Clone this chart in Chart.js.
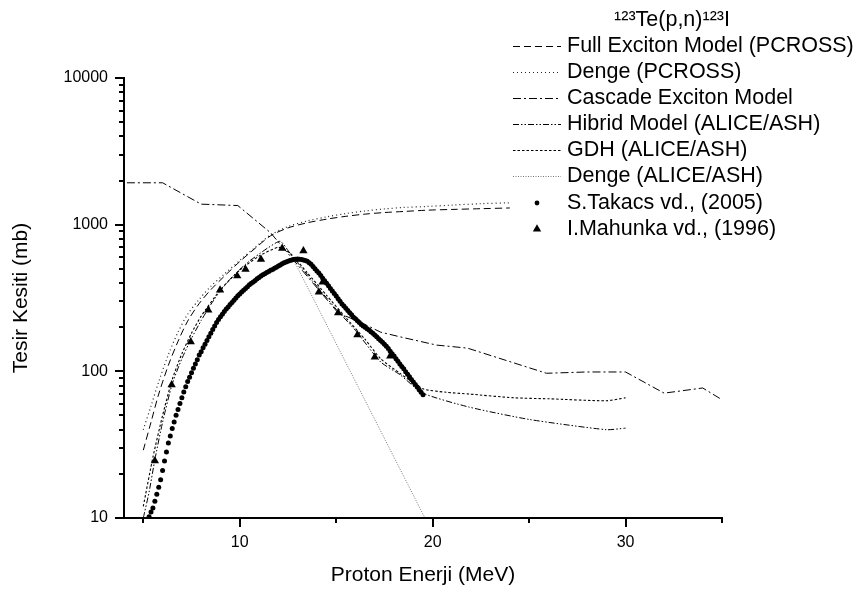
<!DOCTYPE html>
<html>
<head>
<meta charset="utf-8">
<script src="https://cdn.jsdelivr.net/npm/chart.js@4.4.1/dist/chart.umd.min.js"></script>
<style>
  html, body { margin: 0; padding: 0; background: #fff; }
  #wrap { width: 857px; height: 593px; }
</style>
</head>
<body>
<div id="wrap"><canvas id="xs-chart" width="857" height="593"></canvas></div>
<script>
// axis ticks
const xTickValues = [5, 10, 15, 20, 25, 30, 35];
const xLabelValues = [10, 20, 30];
const yTickValues = [10, 20, 30, 40, 50, 60, 70, 80, 90, 100, 200, 300, 400, 500, 600, 700, 800, 900,
  1000, 2000, 3000, 4000, 5000, 6000, 7000, 8000, 9000, 10000];
const yLabelValues = [10, 100, 1000, 10000];

// model curves (MeV, mb)
const fullExcitonE = [5.0, 5.4, 5.8, 6.3, 6.8, 7.3, 7.9, 8.5, 9.2, 10.0, 10.8, 11.6, 12.5, 13.5, 14.5, 15.5, 16.5, 17.5, 18.5, 19.7, 21.0, 22.5, 24.0];
const fullExcitonMb = [29, 45, 70, 110, 160, 220, 290, 360, 445, 560, 690, 840, 950, 1030, 1090, 1140, 1180, 1210, 1230, 1255, 1270, 1285, 1300];

const dengePcrossE = [5.0, 5.4, 5.8, 6.3, 6.8, 7.3, 7.9, 8.5, 9.2, 10.0, 10.8, 11.6, 12.5, 13.5, 14.5, 15.5, 16.5, 17.5, 18.5, 19.7, 21.0, 22.5, 24.0];
const dengePcrossMb = [40, 58, 85, 130, 185, 245, 310, 380, 460, 570, 700, 850, 970, 1060, 1130, 1190, 1240, 1280, 1310, 1330, 1360, 1390, 1410];

const cascadeE = [4.15, 6.0, 8.0, 9.9, 11.6, 15.1, 16.3, 17.3, 18.3, 20.2, 21.8, 25.9, 28.0, 30.0, 32.0, 34.0, 35.0];
const cascadeMb = [1930, 1930, 1380, 1350, 880, 250, 215, 185, 172, 151, 144, 97, 99, 99, 71, 77, 64];

const hibridE = [5.0, 5.3, 5.6, 6.0, 6.5, 7.0, 7.5, 8.0, 8.5, 9.0, 9.5, 10.0, 10.5, 11.0, 11.5, 12.1, 12.6, 13.2, 14.0, 15.0, 16.0, 17.3, 18.3, 19.5, 21.9, 25.0, 29.0, 30.0];
const hibridMb = [10, 15, 25, 45, 82, 122, 168, 222, 285, 355, 425, 495, 565, 630, 700, 770, 640, 510, 380, 265, 190, 116, 95, 71, 57, 47, 40, 41];

const gdhE = [5.0, 5.5, 6.0, 6.5, 7.0, 7.5, 8.0, 9.0, 10.0, 11.0, 12.0, 12.6, 13.5, 14.5, 15.5, 16.5, 17.3, 18.3, 19.5, 20.7, 21.9, 24.2, 26.0, 29.0, 30.0];
const gdhMb = [12, 26, 50, 88, 132, 182, 238, 360, 490, 610, 700, 640, 470, 330, 232, 165, 122, 97, 76, 72, 70, 66, 65, 63, 66];

const dengeAliceE = [12.6, 19.6];
const dengeAliceMb = [644, 10];

// measurements
const takacsE = [
  5.3, 5.4, 5.5, 5.6, 5.7, 5.8, 5.9, 6.0, 6.1, 6.2,
  6.3, 6.4, 6.5, 6.6, 6.7, 6.8, 6.9, 7.0, 7.1, 7.2,
  7.3, 7.4, 7.5, 7.6, 7.7, 7.8, 7.9, 8.0, 8.1, 8.2,
  8.3, 8.4, 8.5, 8.6, 8.7, 8.8, 8.9, 9.0, 9.1, 9.2,
  9.3, 9.4, 9.5, 9.6, 9.7, 9.8, 9.9, 10.0, 10.1, 10.2,
  10.3, 10.4, 10.5, 10.6, 10.7, 10.8, 10.9, 11.0, 11.1, 11.2,
  11.3, 11.4, 11.5, 11.6, 11.7, 11.8, 11.9, 12.0, 12.1, 12.2,
  12.3, 12.4, 12.5, 12.6, 12.7, 12.8, 12.9, 13.0, 13.1, 13.2,
  13.3, 13.4, 13.5, 13.6, 13.7, 13.8, 13.9, 14.0, 14.1, 14.2,
  14.3, 14.4, 14.5, 14.6, 14.7, 14.8, 14.9, 15.0, 15.1, 15.2,
  15.3, 15.4, 15.5, 15.6, 15.7, 15.8, 15.9, 16.0, 16.1, 16.2,
  16.3, 16.4, 16.5, 16.6, 16.7, 16.8, 16.9, 17.0, 17.1, 17.2,
  17.3, 17.4, 17.5, 17.6, 17.7, 17.8, 17.9, 18.0, 18.1, 18.2,
  18.3, 18.4, 18.5, 18.6, 18.7, 18.8, 18.9, 19.0, 19.1, 19.2,
  19.3, 19.4, 19.5
];
const takacsMb = [
  10.2, 11.0, 11.7, 13.0, 14.5, 16.2, 18.2, 21.1, 24.5, 28.2,
  32.4, 36.3, 40.7, 45.2, 50.1, 55.0, 60.3, 66.1, 72.4, 78.5,
  85.1, 91.2, 97.7, 105, 112, 120, 129, 136, 145, 153,
  162, 172, 182, 193, 204, 215, 226, 236, 245, 256,
  266, 275, 285, 295, 305, 316, 327, 337, 347, 357,
  367, 378, 389, 398, 407, 417, 427, 437, 447, 455,
  462, 471, 479, 488, 495, 505, 513, 522, 531, 541,
  550, 556, 562, 569, 575, 579, 582, 583, 582, 579,
  575, 569, 562, 550, 537, 519, 501, 484, 468, 450,
  432, 415, 398, 383, 367, 353, 339, 326, 313, 301,
  288, 279, 269, 260, 251, 243, 234, 228, 221, 215,
  209, 204, 200, 195, 191, 186, 182, 177, 172, 167,
  162, 158, 153, 148, 143, 137, 132, 127, 122, 117,
  112, 108, 104, 99.5, 95.5, 91.8, 88.1, 84.7, 81.3, 78.2,
  75.0, 72.1, 69.2
];

const mahunkaE = [5.6, 6.47, 7.46, 8.37, 8.98, 9.87, 10.3, 11.1, 12.2, 13.3, 14.1, 14.3, 15.1, 16.1, 17.0, 17.8];
const mahunkaMb = [24.5, 81, 159, 262, 358, 447, 496, 580, 689, 663, 347, 406, 250, 177, 125, 127];

const FONT = "'Liberation Sans', Arial, sans-serif";
Chart.defaults.font.family = FONT;
Chart.defaults.color = '#000';

const pts = (xs, ys) => xs.map((x, i) => ({ x: x, y: ys[i] }));

const lineSet = (label, xs, ys, dash, color, width, tension) => ({
  label: label,
  data: pts(xs, ys),
  showLine: true,
  borderColor: color,
  borderWidth: width,
  borderDash: dash,
  pointRadius: 0,
  tension: tension,
  fill: false,
  order: 2,
});

const datasets = [
  lineSet('Full Exciton Model (PCROSS)', fullExcitonE, fullExcitonMb, [7, 4], '#000', 1, 0.3),
  lineSet('Denge (PCROSS)', dengePcrossE, dengePcrossMb, [1, 3], '#222', 1.2, 0.3),
  lineSet('Cascade Exciton Model', cascadeE, cascadeMb, [8, 3, 2, 3], '#000', 1, 0),
  lineSet('Hibrid Model (ALICE/ASH)', hibridE, hibridMb, [6, 2, 1.5, 2, 1.5, 2], '#000', 1, 0.2),
  lineSet('GDH (ALICE/ASH)', gdhE, gdhMb, [2.5, 2], '#000', 1.1, 0.2),
  lineSet('Denge (ALICE/ASH)', dengeAliceE, dengeAliceMb, [1, 1.5], '#666', 0.9, 0),
  {
    label: 'S.Takacs vd., (2005)',
    data: pts(takacsE, takacsMb),
    showLine: false,
    pointStyle: 'circle',
    pointRadius: 2.5,
    pointBorderWidth: 0,
    backgroundColor: '#000',
    borderColor: '#000',
    order: 1,
  },
  {
    label: 'I.Mahunka vd., (1996)',
    data: pts(mahunkaE, mahunkaMb),
    showLine: false,
    pointStyle: 'triangle',
    pointRadius: 4.8,
    pointBorderWidth: 0,
    backgroundColor: '#000',
    borderColor: '#000',
    order: 0,
  },
];

// tick marks on the outside of both axes
const axisTicks = {
  id: 'axisTicks',
  afterDraw(chart) {
    const { ctx, chartArea, scales: { x, y } } = chart;
    ctx.save();
    ctx.strokeStyle = '#000';
    ctx.lineWidth = 2;
    ctx.beginPath();
    xTickValues.forEach(v => {
      const px = Math.round(x.getPixelForValue(v));
      const len = xLabelValues.includes(v) ? 9 : 5;
      ctx.moveTo(px, chartArea.bottom);
      ctx.lineTo(px, chartArea.bottom + len);
    });
    yTickValues.forEach(v => {
      const py = Math.round(y.getPixelForValue(v));
      const len = yLabelValues.includes(v) ? 9 : 5;
      ctx.moveTo(chartArea.left, py);
      ctx.lineTo(chartArea.left - len, py);
    });
    ctx.stroke();
    ctx.restore();
  }
};

// legend block in the upper right
const sideLegend = {
  id: 'sideLegend',
  afterDraw(chart) {
    const ctx = chart.ctx;
    const x0 = 513, x1 = 561, tx = 567;
    const rowY = [46, 72, 98, 124, 150, 176, 203, 229];
    ctx.save();
    ctx.fillStyle = '#000';
    ctx.font = '21.5px ' + FONT;
    ctx.textAlign = 'center';
    ctx.textBaseline = 'middle';
    ctx.fillText('\u00B9\u00B2\u00B3Te(p,n)\u00B9\u00B2\u00B3I', 672, 20);
    ctx.textAlign = 'left';
    chart.data.datasets.forEach((ds, i) => {
      const y = rowY[i];
      if (ds.showLine) {
        ctx.save();
        ctx.strokeStyle = ds.borderColor;
        ctx.lineWidth = ds.borderWidth;
        ctx.setLineDash(ds.borderDash);
        ctx.beginPath();
        ctx.moveTo(x0, y + 0.5);
        ctx.lineTo(x1, y + 0.5);
        ctx.stroke();
        ctx.restore();
      } else if (ds.pointStyle === 'circle') {
        ctx.beginPath();
        ctx.arc((x0 + x1) / 2, y, 2.4, 0, Math.PI * 2);
        ctx.fill();
      } else {
        const cx = (x0 + x1) / 2, r = 4.8;
        ctx.beginPath();
        ctx.moveTo(cx, y - r);
        ctx.lineTo(cx + r * 0.87, y + r * 0.5);
        ctx.lineTo(cx - r * 0.87, y + r * 0.5);
        ctx.closePath();
        ctx.fill();
      }
      ctx.fillText(ds.label, tx, y);
    });
    ctx.restore();
  }
};

const ctx = document.getElementById('xs-chart').getContext('2d');
const xsChart = new Chart(ctx, {
  type: 'scatter',
  data: { datasets: datasets },
  options: {
    responsive: false,
    animation: false,
    devicePixelRatio: 1,
    layout: { padding: { top: 78, right: 135, bottom: 0, left: 0 } },
    plugins: {
      legend: { display: false },
      tooltip: { enabled: false },
    },
    scales: {
      x: {
        type: 'linear',
        min: 4,
        max: 35,
        afterBuildTicks: s => { s.ticks = xTickValues.map(v => ({ value: v })); },
        afterFit: s => { s.height = 75; },
        grid: { display: false, drawTicks: false },
        border: { display: true, color: '#000', width: 2 },
        ticks: {
          autoSkip: false,
          maxRotation: 0,
          padding: 15,
          font: { size: 16 },
          callback: v => (xLabelValues.includes(v) ? String(v) : ''),
        },
        title: {
          display: true,
          text: 'Proton Enerji (MeV)',
          font: { size: 21 },
          padding: { top: 0, bottom: 5 },
        },
      },
      y: {
        type: 'logarithmic',
        min: 10,
        max: 10000,
        afterBuildTicks: s => { s.ticks = yTickValues.map(v => ({ value: v })); },
        afterFit: s => { s.width = 124; },
        grid: { display: false, drawTicks: false },
        border: { display: true, color: '#000', width: 2 },
        ticks: {
          autoSkip: false,
          padding: 16,
          font: { size: 16 },
          callback: v => (yLabelValues.includes(v) ? String(v) : ''),
        },
        title: {
          display: true,
          text: 'Tesir Kesiti (mb)',
          font: { size: 21 },
          padding: { top: 9, bottom: 0 },
        },
      },
    },
  },
  plugins: [axisTicks, sideLegend],
});
</script>
</body>
</html>
